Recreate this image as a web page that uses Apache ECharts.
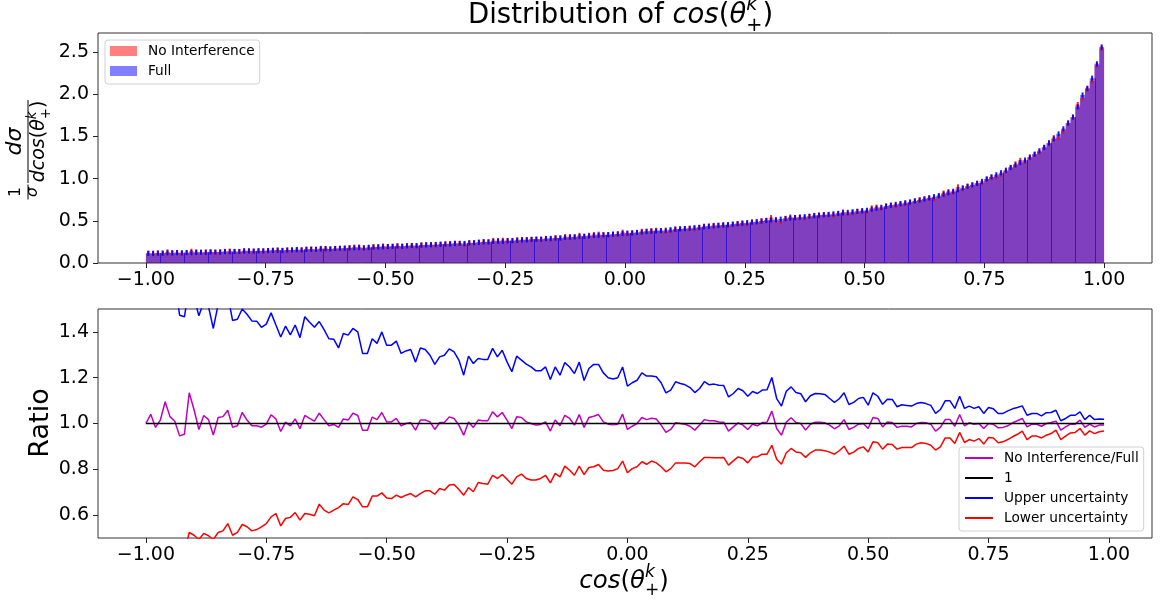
<!DOCTYPE html>
<html><head><meta charset="utf-8">
<script src="https://cdn.jsdelivr.net/npm/echarts@6/dist/echarts.min.js"></script>
<style>html,body{margin:0;padding:0;background:#fff}#c{width:1162px;height:603px}</style>
</head><body><div id="c"></div>
<script>
// ---------------- DATA ----------------
const binStart = -1.0;
const binWidth = 0.01;
const xTicks = [-1, -0.75, -0.5, -0.25, 0, 0.25, 0.5, 0.75, 1];
const topYTicks = [0, 0.5, 1.0, 1.5, 2.0, 2.5];
const ratioYTicks = [0.6, 0.8, 1.0, 1.2, 1.4];
const errHalf = 0.03;

// normalised distribution, "Full" sample (200 bins)
const fullHist = [
0.115,0.112,0.118,0.116,0.12,0.119,0.122,0.121,0.124,0.123,
0.125,0.128,0.126,0.13,0.131,0.129,0.134,0.133,0.137,0.136,
0.14,0.142,0.141,0.145,0.144,0.148,0.147,0.151,0.15,0.153,
0.155,0.157,0.156,0.16,0.162,0.161,0.166,0.168,0.167,0.172,
0.175,0.174,0.178,0.18,0.182,0.181,0.186,0.188,0.19,0.192,
0.195,0.197,0.2,0.199,0.204,0.207,0.206,0.211,0.214,0.216,
0.22,0.222,0.225,0.224,0.23,0.233,0.232,0.238,0.241,0.244,
0.25,0.249,0.255,0.258,0.257,0.263,0.266,0.268,0.272,0.275,
0.28,0.283,0.282,0.289,0.292,0.295,0.297,0.302,0.305,0.31,
0.315,0.318,0.32,0.326,0.329,0.333,0.336,0.342,0.345,0.35,
0.355,0.358,0.362,0.366,0.372,0.375,0.379,0.384,0.389,0.394,
0.40,0.404,0.408,0.413,0.419,0.423,0.429,0.434,0.44,0.445,
0.45,0.456,0.462,0.466,0.473,0.478,0.485,0.49,0.497,0.503,
0.51,0.514,0.52,0.526,0.532,0.537,0.543,0.549,0.554,0.56,
0.565,0.571,0.576,0.583,0.588,0.594,0.6,0.607,0.613,0.618,
0.625,0.636,0.648,0.66,0.672,0.683,0.695,0.705,0.714,0.724,
0.735,0.745,0.758,0.772,0.786,0.8,0.815,0.832,0.85,0.868,
0.89,0.908,0.926,0.944,0.968,0.995,1.02,1.045,1.07,1.1,
1.13,1.16,1.19,1.22,1.255,1.29,1.33,1.37,1.42,1.47,
1.53,1.59,1.66,1.73,1.85,1.99,2.07,2.19,2.36,2.56
];

// No Interference / Full ratio per bin
const ratioNoIntFull = [
1.0,1.04,0.983,1.015,1.095,1.03,1.01,0.946,0.953,1.134,1.06,0.974,1.035,1.017,0.95,1.026,1.03,1.058,0.983,0.99,
1.048,1.015,0.99,0.99,0.984,0.997,1.038,1.02,0.965,1.006,0.99,1.02,0.977,1.035,1.022,1.01,1.045,1.017,0.99,0.996,
0.983,1.02,1.015,1.045,1.035,0.97,0.97,1.028,1.017,1.048,1.007,
1.007,1.022,0.99,1.0,1.004,0.971,1.015,1.015,1.007,0.974,1.004,1.004,1.029,1.022,0.993,0.949,1.007,0.983,1.015,1.012,
1.012,1.051,1.029,1.048,1.015,0.978,1.029,1.026,1.007,1.0,0.993,0.996,1.007,0.967,1.015,0.99,1.036,1.022,0.993,1.039,
0.983,1.026,1.032,1.039,1.007,0.997,0.994,0.997,1.041,0.974,
0.988,1.0,1.026,1.017,1.023,1.02,0.993,0.961,0.974,1.003,1.0,0.997,0.988,0.971,0.993,1.017,1.012,1.012,1.007,1.006,
0.967,0.985,1.003,0.993,0.974,0.997,0.99,1.004,1.006,1.054,0.978,0.949,1.006,1.025,1.004,1.0,0.971,0.997,1.006,1.006,
1.003,0.993,0.977,0.99,1.017,0.974,0.983,0.997,1.0,0.978,
1.026,1.022,0.985,1.007,1.004,0.983,0.988,0.988,0.985,1.0,1.004,1.003,0.997,0.967,0.983,1.017,1.017,0.988,1.039,0.99,
1.003,0.997,1.0,0.978,1.0,0.997,0.981,0.983,0.99,1.003,1.012,1.022,0.985,0.997,0.997,0.988,1.0,1.004,1.01,0.971,
0.985,0.997,0.997,1.015,0.983,0.997,0.985,0.993,0.993
];

const upperUncertainty = [
1.62,1.68,1.6,1.64,1.75,1.66,1.62,1.473,1.466,1.6,1.55,1.47,1.53,1.51,1.415,1.52,1.53,1.56,1.45,1.455,
1.5,1.477,1.448,1.447,1.42,1.434,1.483,1.43,1.378,1.425,1.387,1.43,1.375,1.466,1.442,1.42,1.445,1.41,1.37,1.368,
1.33,1.393,1.386,1.415,1.4,1.306,1.306,1.37,1.35,1.4,1.342,
1.342,1.36,1.306,1.317,1.323,1.268,1.33,1.323,1.298,1.258,1.291,1.298,1.326,1.313,1.277,1.211,1.294,1.262,1.284,1.28,
1.28,1.328,1.291,1.32,1.269,1.226,1.294,1.277,1.259,1.247,1.23,1.23,1.247,1.192,1.247,1.211,1.266,1.247,1.218,1.268,
1.188,1.24,1.258,1.258,1.221,1.2,1.194,1.2,1.247,1.163,
1.178,1.189,1.221,1.207,1.207,1.204,1.178,1.134,1.146,1.182,1.175,1.169,1.157,1.135,1.153,1.183,1.169,1.172,1.167,1.166,
1.116,1.131,1.153,1.143,1.119,1.14,1.131,1.146,1.147,1.201,1.109,1.076,1.141,1.16,1.135,1.13,1.095,1.121,1.131,1.13,
1.127,1.109,1.092,1.108,1.134,1.083,1.092,1.109,1.114,1.08,
1.134,1.119,1.084,1.106,1.105,1.073,1.082,1.079,1.076,1.087,1.092,1.087,1.079,1.044,1.061,1.099,1.099,1.066,1.119,1.066,
1.076,1.066,1.073,1.044,1.07,1.064,1.044,1.044,1.055,1.064,1.07,1.077,1.036,1.044,1.044,1.033,1.047,1.048,1.058,1.012,
1.022,1.036,1.036,1.051,1.017,1.036,1.017,1.02,1.019
];

const lowerUncertainty = [
0.38,0.4,0.37,0.39,0.44,0.4,0.4,0.42,0.44,0.524,0.512,0.493,0.52,0.51,0.493,0.524,0.531,0.563,0.512,0.525,
0.559,0.549,0.531,0.537,0.549,0.563,0.592,0.607,0.553,0.585,0.59,0.611,0.578,0.607,0.604,0.597,0.648,0.622,0.61,0.622,
0.633,0.65,0.646,0.68,0.668,0.636,0.636,0.683,0.683,0.697,0.675,
0.672,0.687,0.677,0.687,0.694,0.68,0.694,0.706,0.706,0.691,0.716,0.709,0.731,0.734,0.712,0.687,0.72,0.702,0.742,0.738,
0.735,0.774,0.76,0.777,0.757,0.735,0.767,0.779,0.76,0.753,0.753,0.76,0.774,0.741,0.782,0.767,0.814,0.796,0.774,0.814,
0.777,0.808,0.811,0.821,0.796,0.793,0.795,0.803,0.836,0.785,
0.803,0.811,0.833,0.822,0.836,0.828,0.811,0.789,0.803,0.828,0.828,0.828,0.825,0.811,0.833,0.852,0.852,0.85,0.85,0.852,
0.818,0.837,0.854,0.847,0.828,0.854,0.854,0.866,0.866,0.905,0.844,0.822,0.872,0.891,0.876,0.872,0.852,0.872,0.884,0.884,
0.881,0.875,0.866,0.881,0.901,0.866,0.875,0.891,0.898,0.876,
0.92,0.916,0.888,0.91,0.908,0.888,0.895,0.895,0.895,0.91,0.916,0.913,0.905,0.884,0.898,0.937,0.937,0.913,0.961,0.917,
0.93,0.923,0.934,0.91,0.939,0.937,0.916,0.92,0.93,0.942,0.953,0.967,0.93,0.945,0.945,0.937,0.949,0.956,0.971,0.93,
0.945,0.959,0.961,0.978,0.949,0.968,0.956,0.964,0.967
];

// bin boundaries whose bar edges show as dark lines in the rendered histogram
const visibleEdgeBins = [3,8,13,18,23,28,33,37,42,47,52,57,62,67,72,76,81,86,91,96,101,106,111,116,121,126,130,
  135,140,145,150,154,159,164,169,174,179,184,189,194,198];

// ---------------- DERIVED ----------------
const nBins = fullHist.length;
const edges = [];
for (let i = 0; i <= nBins; i++) edges.push(+(binStart + i * binWidth).toFixed(4));
const centers = edges.slice(0, nBins).map(e => +(e + binWidth / 2).toFixed(4));
const noIntHist = fullHist.map((v, i) => v * ratioNoIntFull[i]);
const ratioX = edges.slice(0, nBins);

// ---------------- HELPERS ----------------
const FONT = "'DejaVu Sans'";
const mctx = document.createElement('canvas').getContext('2d');
function fontStr(size, italic) { return (italic ? 'italic ' : '') + size + 'px ' + FONT; }
function measure(t, size, italic) { mctx.font = fontStr(size, italic); return mctx.measureText(t).width; }
function mathPieces(size) {
  const s2 = +(size * 0.7).toFixed(1);
  return [
    { t: 'cos', s: size, it: true },
    { t: '(', s: size, it: false },
    { t: 'θ', s: size, it: true },
    { stack: [{ t: 'k', s: s2, it: true, dy: -0.48 * size }, { t: '+', s: s2, it: false, dy: 0.28 * size }] },
    { t: ')', s: size, it: false }
  ];
}
function txtEl(p, x, base) {
  return { type: 'text', x: x, y: base + (p.dy || 0) - 0.35 * p.s, silent: true,
    style: { text: p.t, font: fontStr(p.s, p.it), fill: '#000', align: 'left', verticalAlign: 'middle' } };
}
function rowWidth(pieces) {
  let w = 0;
  for (const p of pieces) {
    if (p.stack) w += Math.max(...p.stack.map(q => measure(q.t, q.s, q.it)));
    else w += measure(p.t, p.s, p.it);
  }
  return w;
}
function layoutRow(pieces, x0, base) {
  const els = []; let x = x0;
  for (const p of pieces) {
    if (p.stack) {
      let w = 0;
      for (const q of p.stack) { els.push(txtEl(q, x, base)); w = Math.max(w, measure(q.t, q.s, q.it)); }
      x += w;
    } else { els.push(txtEl(p, x, base)); x += measure(p.t, p.s, p.it); }
  }
  return els;
}
function centeredRow(pieces, cx, base) { return layoutRow(pieces, cx - rowWidth(pieces) / 2, base); }

// title
const titleEls = layoutRow([{ t: 'Distribution of ', s: 27.5, it: false }].concat(mathPieces(27.5)), 468, 25);
// x label
const xLabelEls = centeredRow(mathPieces(24.5), 624, 590);
// rotated y label (local coords: x along reading direction, y toward screen right)
const yl = [];
yl.push(...centeredRow([{ t: '1', s: 15.5, it: false }], 0, -7));
yl.push(...centeredRow([{ t: 'σ', s: 15.5, it: true }], 0, 10));
yl.push({ type: 'line', silent: true, shape: { x1: -7.5, y1: 0, x2: 7.5, y2: 0 }, style: { stroke: '#000', lineWidth: 1 } });
yl.push(...centeredRow([{ t: 'dσ', s: 22, it: true }], 50.5, -5));
yl.push(...centeredRow([{ t: 'd', s: 19, it: true }].concat(mathPieces(19)), 50.5, 18));
yl.push({ type: 'line', silent: true, shape: { x1: 9, y1: 0, x2: 92, y2: 0 }, style: { stroke: '#000', lineWidth: 1 } });

// ---------------- SERIES ----------------
function histSeries(name, vals, color, z, edgeBins) {
  return {
    type: 'custom', name: name, xAxisIndex: 0, yAxisIndex: 0, z: z, silent: true,
    itemStyle: { color: color },
    data: [[0, 0]],
    renderItem: function (params, api) {
      const pts = [api.coord([edges[0], 0])];
      vals.forEach((v, i) => { pts.push(api.coord([edges[i], v])); pts.push(api.coord([edges[i + 1], v])); });
      pts.push(api.coord([edges[vals.length], 0]));
      const children = [{ type: 'polygon', shape: { points: pts }, style: { fill: color } }];
      (edgeBins || []).forEach(i => {
        const top = api.coord([edges[i], Math.min(vals[i], vals[i - 1])]);
        const bot = api.coord([edges[i], 0]);
        const x = Math.round(top[0]) + 0.5;
        children.push({ type: 'line', shape: { x1: x, y1: top[1], x2: x, y2: bot[1] },
          style: { stroke: 'rgba(45,10,215,0.85)', lineWidth: 1 } });
      });
      return { type: 'group', children: children };
    }
  };
}
function errSeries(vals, color, z) {
  return {
    type: 'custom', xAxisIndex: 0, yAxisIndex: 0, z: z, silent: true,
    data: vals.map((v, i) => [centers[i], v]),
    encode: { x: 0, y: 1 },
    renderItem: function (params, api) {
      const x = api.value(0), v = api.value(1);
      const a = api.coord([x, v - errHalf]), b = api.coord([x, v + errHalf]);
      return { type: 'line', shape: { x1: a[0], y1: a[1], x2: b[0], y2: b[1] }, style: { stroke: color, lineWidth: 2 } };
    }
  };
}
function lineSeries(name, vals, color) {
  return {
    type: 'line', name: name, xAxisIndex: 1, yAxisIndex: 1, color: color,
    data: vals.map((v, i) => [ratioX[i], v]),
    showSymbol: false, symbol: 'none', silent: true,
    lineStyle: { color: color, width: 1.5 }
  };
}

const fmtX = v => (v < 0 ? '\u2212' : '') + Math.abs(v).toFixed(2);
const fmtY = v => (v < 0 ? '\u2212' : '') + Math.abs(v).toFixed(1);
function xAxisCfg(grid, min, max) {
  return {
    type: 'value', gridIndex: grid, min: min, max: max,
    axisLine: { show: false, onZero: false }, splitLine: { show: false },
    axisTick: { show: true, length: 5, customValues: xTicks, lineStyle: { color: '#222', width: 1 } },
    axisLabel: { customValues: xTicks, formatter: fmtX, fontSize: 19, color: '#000', fontFamily: FONT, margin: 8 }
  };
}
function yAxisCfg(grid, min, max, ticks) {
  return {
    type: 'value', gridIndex: grid, min: min, max: max,
    axisLine: { show: false, onZero: false }, splitLine: { show: false },
    axisTick: { show: true, length: 5, customValues: ticks, lineStyle: { color: '#222', width: 1 } },
    axisLabel: { customValues: ticks, formatter: fmtY, fontSize: 19, color: '#000', fontFamily: FONT, margin: 9 }
  };
}

const ones = ratioX.map(() => 1);

const option = {
  animation: false,
  backgroundColor: '#fff',
  textStyle: { fontFamily: FONT },
  grid: [
    { left: 98, top: 33, width: 1054, height: 230, show: true, borderColor: '#333', borderWidth: 1, backgroundColor: 'transparent' },
    { left: 98, top: 309, width: 1054, height: 229, show: true, borderColor: '#333', borderWidth: 1, backgroundColor: 'transparent' }
  ],
  xAxis: [xAxisCfg(0, -1.1, 1.1), xAxisCfg(1, -1.0995, 1.0895)],
  yAxis: [yAxisCfg(0, 0, 2.725, topYTicks), yAxisCfg(1, 0.5, 1.5, ratioYTicks)],
  legend: [
    {
      data: ['No Interference', 'Full'], orient: 'vertical', left: 105, top: 40,
      icon: 'rect', itemWidth: 27, itemHeight: 10, itemGap: 6, selectedMode: false,
      padding: [4, 5, 6, 5], backgroundColor: 'rgba(255,255,255,0.85)', borderColor: '#d0d0d0', borderWidth: 1, borderRadius: 3,
      textStyle: { fontSize: 13.7, color: '#000', fontFamily: FONT, lineHeight: 14, padding: [0, 0, 0, 6] }
    },
    {
      data: ['No Interference/Full', '1', 'Upper uncertainty', 'Lower uncertainty'], orient: 'vertical', left: 959, top: 447,
      icon: 'rect', itemWidth: 28, itemHeight: 2, itemGap: 6, selectedMode: false,
      padding: [4, 5, 6, 6], backgroundColor: 'rgba(255,255,255,0.85)', borderColor: '#d0d0d0', borderWidth: 1, borderRadius: 3,
      textStyle: { fontSize: 13.7, color: '#000', fontFamily: FONT, lineHeight: 14, padding: [0, 0, 0, 6] }
    }
  ],
  series: [
    histSeries('No Interference', noIntHist, 'rgba(255,0,0,0.5)', 2),
    histSeries('Full', fullHist, 'rgba(0,0,255,0.5)', 3, visibleEdgeBins),
    errSeries(noIntHist, 'rgba(255,0,0,0.9)', 4),
    errSeries(fullHist, 'rgba(0,0,255,0.9)', 5),
    lineSeries('No Interference/Full', ratioNoIntFull, '#bf00bf'),
    lineSeries('1', ones, '#000000'),
    lineSeries('Upper uncertainty', upperUncertainty, '#0000ff'),
    lineSeries('Lower uncertainty', lowerUncertainty, '#ff0000')
  ],
  graphic: [
    { type: 'group', children: titleEls },
    { type: 'group', children: xLabelEls },
    { type: 'group', x: 28, y: 192, rotation: Math.PI / 2, children: yl },
    { type: 'text', x: 41, y: 423, rotation: Math.PI / 2, silent: true,
      style: { text: 'Ratio', font: '27px ' + FONT, fill: '#000', align: 'center', verticalAlign: 'middle' } }
  ]
};
const chart = echarts.init(document.getElementById('c'), null, { renderer: 'canvas' });
chart.setOption(option);
</script></body></html>
